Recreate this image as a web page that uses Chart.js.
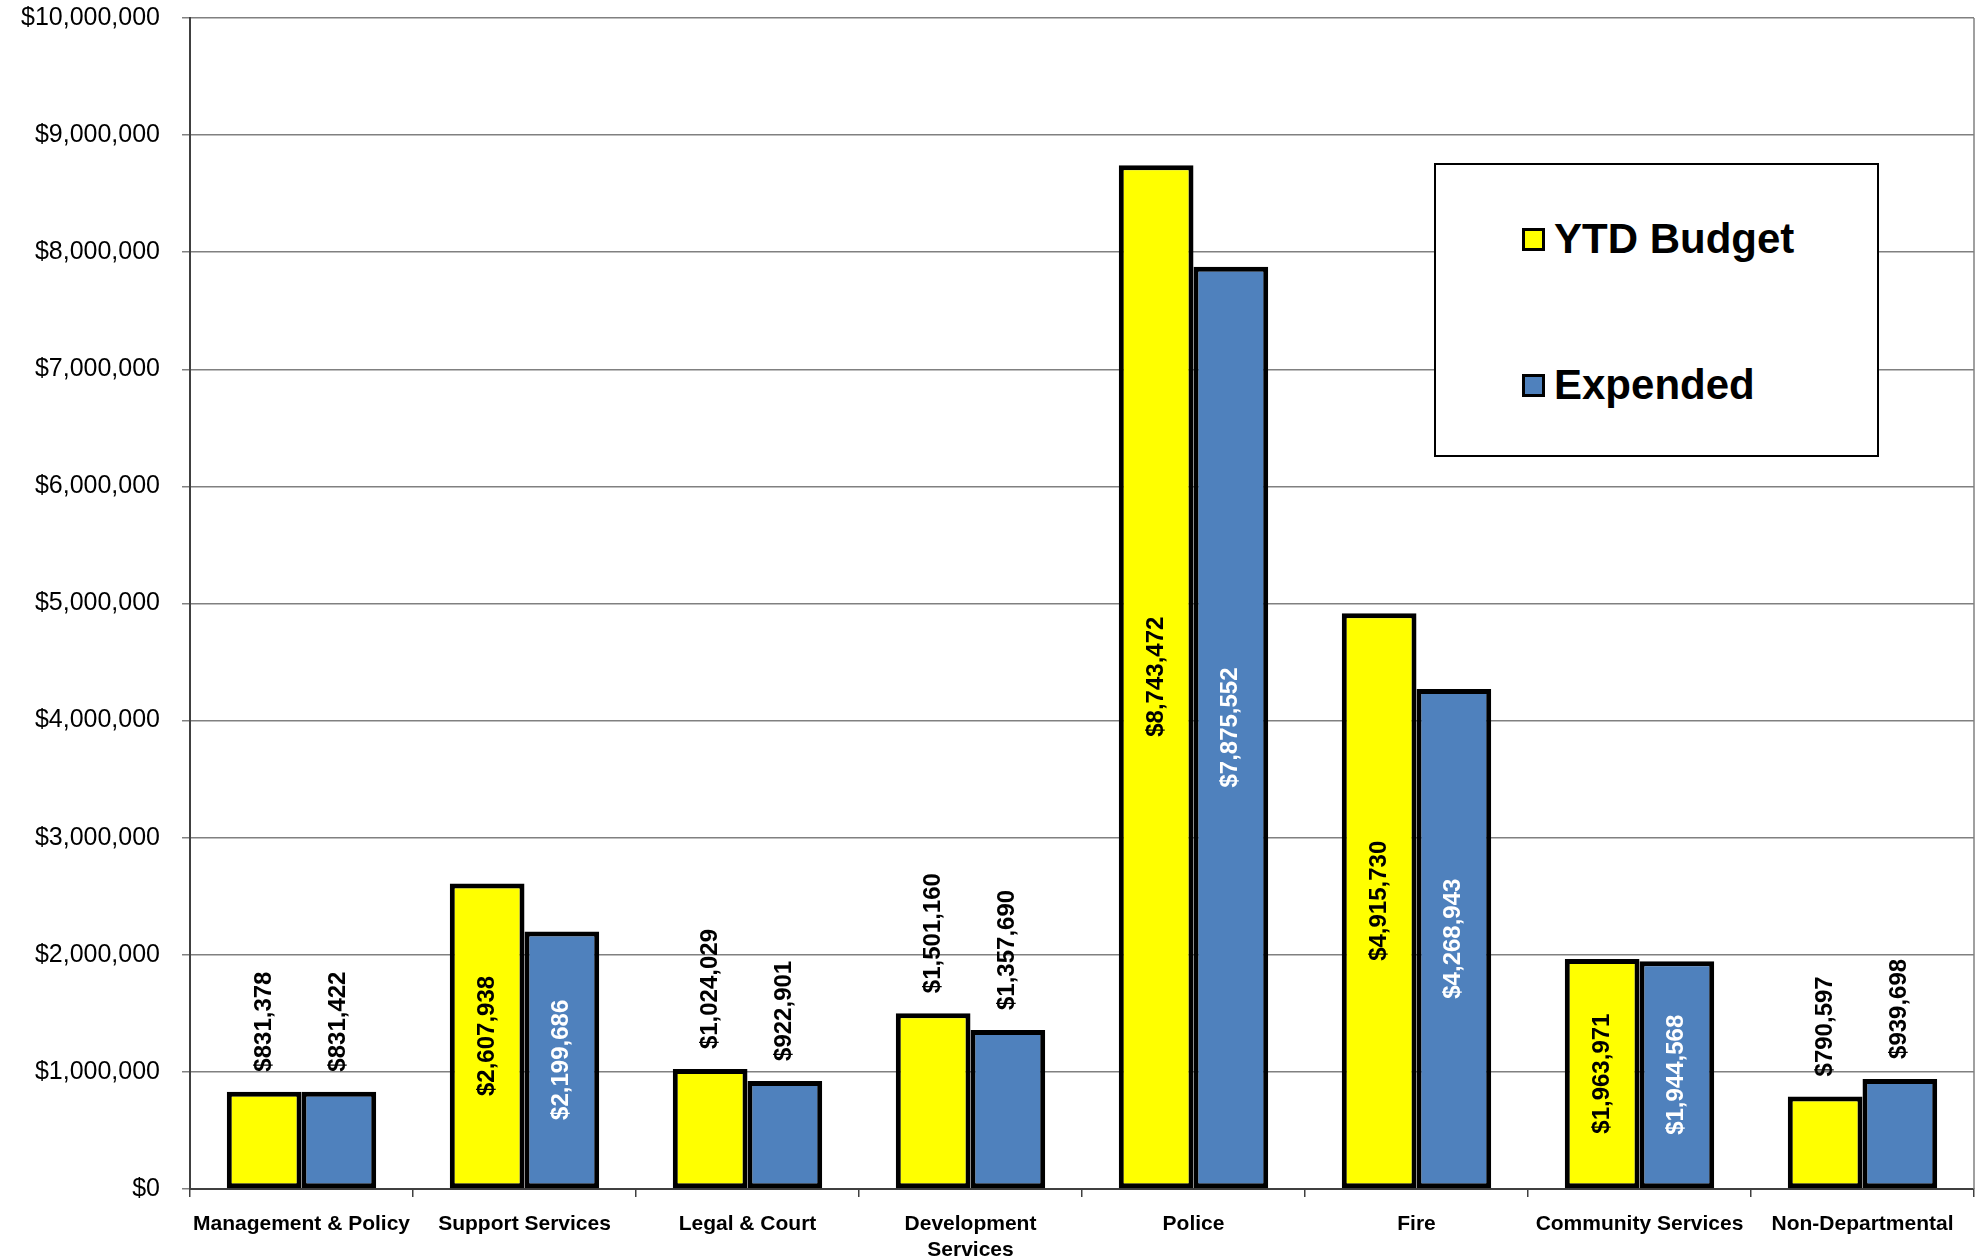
<!DOCTYPE html>
<html>
<head>
<meta charset="utf-8">
<title>YTD Budget vs Expended</title>
<script src="https://cdn.jsdelivr.net/npm/chart.js@4.4.1/dist/chart.umd.min.js"></script>
<style>
    body { margin: 0; background: #ffffff; }
    #wrap { position: relative; width: 1984px; height: 1259px; }
    #legend {
        position: absolute; left: 1434px; top: 163px; width: 441px; height: 290px;
        border: 2px solid #000; background: #fff;
        font: bold 42px "Liberation Sans", Arial, sans-serif; color: #000;
    }
    #legend .item { position: absolute; left: 86px; display: flex; align-items: center; }
    #legend .box { width: 17px; height: 17px; border: 3px solid #000; margin-right: 9px; }
</style>
</head>
<body>
<div id="wrap">
    <canvas id="budgetChart"></canvas>
    <div id="legend"></div>
</div>
<script>
// Chart data
const departments = ['Management & Policy', 'Support Services', 'Legal & Court', ['Development', 'Services'],
    'Police', 'Fire', 'Community Services', 'Non-Departmental'];
const ytdBudget = [831378, 2607938, 1024029, 1501160, 8743472, 4915730, 1963971, 790597];
const expended = [831422, 2199686, 922901, 1357690, 7875552, 4268943, 1944568, 939698];
const seriesNames = ['YTD Budget', 'Expended'];

const money = v => '$' + Math.round(v).toLocaleString('en-US');

// Value labels: centred inside tall bars, above short ones, rotated
const barLabels = {
    id: 'barLabels',
    afterDatasetsDraw(chart) {
        const ctx = chart.ctx;
        ctx.save();
        ctx.font = 'bold 24px "Liberation Sans", Arial, sans-serif';
        chart.data.datasets.forEach((ds, di) => {
            chart.getDatasetMeta(di).data.forEach((bar, i) => {
                const text = money(ds.data[i]);
                const w = ctx.measureText(text).width;
                const inside = (bar.base - bar.y) >= w * 1.7;
                ctx.save();
                ctx.translate(bar.x, inside ? (bar.y + bar.base) / 2 : bar.y - 20);
                ctx.rotate(-Math.PI / 2);
                ctx.textAlign = inside ? 'center' : 'left';
                ctx.textBaseline = 'middle';
                ctx.fillStyle = inside ? ds.insideLabelColor : '#000000';
                ctx.fillText(text, 0, 0);
                ctx.restore();
            });
        });
        ctx.restore();
    }
};

// Right edge of the plot area
const plotEdge = {
    id: 'plotEdge',
    beforeDatasetsDraw(chart) {
        const { ctx, chartArea } = chart;
        ctx.save();
        ctx.strokeStyle = '#808080';
        ctx.lineWidth = 1.5;
        ctx.beginPath();
        ctx.moveTo(chartArea.right, chartArea.top);
        ctx.lineTo(chartArea.right, chartArea.bottom);
        ctx.stroke();
        ctx.restore();
    }
};

const chart = new Chart(document.getElementById('budgetChart'), {
    type: 'bar',
    data: {
        labels: departments,
        datasets: [{
            label: seriesNames[0],
            data: ytdBudget,
            backgroundColor: '#FFFF00',
            borderColor: '#000000',
            borderWidth: 5,
            borderSkipped: false,
            insideLabelColor: '#000000'
        }, {
            label: seriesNames[1],
            data: expended,
            backgroundColor: '#4F81BD',
            borderColor: '#000000',
            borderWidth: 5,
            borderSkipped: false,
            insideLabelColor: '#FFFFFF'
        }]
    },
    options: {
        responsive: true,
        maintainAspectRatio: false,
        animation: false,
        layout: { padding: { top: 18, right: 10, left: 0, bottom: 0 } },
        datasets: { bar: { barPercentage: 1, categoryPercentage: 0.67 } },
        plugins: {
            legend: { display: false },
            tooltip: { enabled: false }
        },
        scales: {
            x: {
                grid: { offset: true, drawOnChartArea: false, tickLength: 8, color: '#404040', lineWidth: 1.5 },
                border: { color: '#404040', width: 2 },
                ticks: {
                    color: '#000000',
                    padding: 15,
                    maxRotation: 0,
                    autoSkip: false,
                    font: { family: '"Liberation Sans", Arial, sans-serif', size: 21, weight: 'bold', lineHeight: 1.2 }
                },
                afterFit(scale) { scale.height = 70; }
            },
            y: {
                min: 0,
                max: 10000000,
                grid: { color: '#808080', lineWidth: 1.5, tickLength: 8 },
                border: { color: '#404040', width: 2 },
                ticks: {
                    stepSize: 1000000,
                    color: '#000000',
                    padding: 22,
                    font: { family: '"Liberation Sans", Arial, sans-serif', size: 25 },
                    callback: v => money(v)
                },
                afterFit(scale) {
                    scale.width = 190;
                    scale.paddingTop = 0;
                    scale.paddingBottom = 0;
                }
            }
        }
    },
    plugins: [barLabels, plotEdge]
});

// Legend box built from the datasets
const legend = document.getElementById('legend');
chart.data.datasets.forEach((ds, i) => {
    const item = document.createElement('div');
    item.className = 'item';
    item.style.top = (i === 0 ? 50 : 196) + 'px';
    item.innerHTML = `<span class="box" style="background:${ds.backgroundColor}"></span>${ds.label}`;
    legend.appendChild(item);
});
</script>
</body>
</html>
